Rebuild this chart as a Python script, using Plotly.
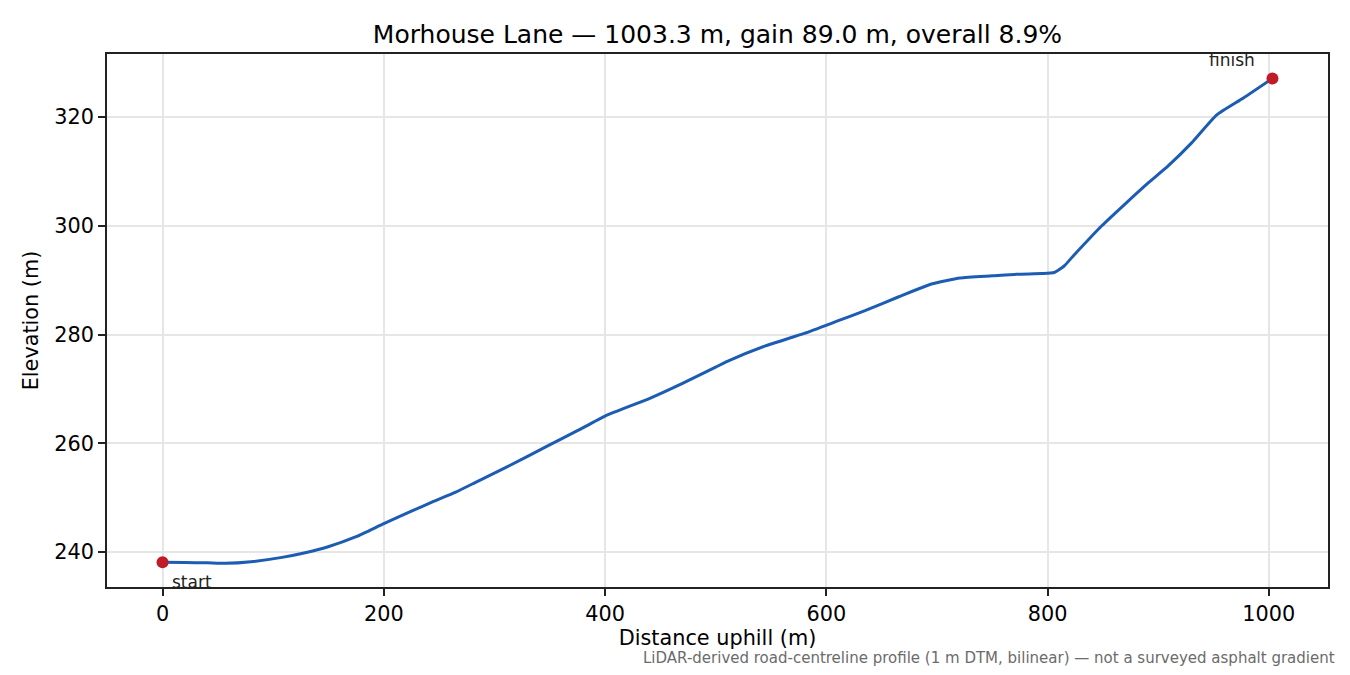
import plotly.graph_objects as go

# profile data (distance uphill in m, elevation in m)
distancia = [0, 20, 40, 57, 80, 108, 130, 149, 175, 200, 225, 244, 265, 283, 310,
             349, 375, 400, 441, 470, 500, 511, 545, 580, 609, 635, 665, 695, 721,
             750, 772, 795, 806, 815, 823, 849, 870, 890, 909, 930, 953, 977, 1003.3]
elevacao = [238.1, 238.05, 238.0, 237.9, 238.2, 239.0, 239.9, 240.9, 242.8, 245.2,
            247.5, 249.2, 251.0, 252.8, 255.5, 259.6, 262.3, 265.0, 268.3, 271.0,
            274.0, 275.1, 277.9, 280.2, 282.4, 284.4, 286.9, 289.3, 290.4, 290.8,
            291.1, 291.2, 291.4, 292.6, 294.4, 300.0, 304.0, 307.7, 311.0, 315.2,
            320.4, 323.5, 327.1]

pontos_x = [distancia[0], distancia[-1]]
pontos_y = [elevacao[0], elevacao[-1]]
rotulos = ["start", "finish"]

x_ticks = [0, 200, 400, 600, 800, 1000]
y_ticks = [240, 260, 280, 300, 320]

titulo = "Morhouse Lane — 1003.3 m, gain 89.0 m, overall 8.9%"
nota = "LiDAR-derived road-centreline profile (1 m DTM, bilinear) — not a surveyed asphalt gradient"

fonte = "DejaVu Sans"

# the page has an 8px body margin, so the figure is a bit smaller than the window
W, H = 1334, 659

fig = go.Figure()
fig.add_trace(go.Scatter(x=distancia, y=elevacao, mode="lines",
                         line=dict(color="#1c5cb2", width=3, shape="spline", smoothing=0.5),
                         showlegend=False))
fig.add_trace(go.Scatter(x=pontos_x, y=pontos_y, mode="markers",
                         marker=dict(color="#c01c28", size=12), showlegend=False))

# start / finish labels
fig.add_annotation(x=pontos_x[0], y=pontos_y[0], text=rotulos[0], showarrow=False,
                   xanchor="left", yanchor="middle", xshift=7, yshift=-20,
                   font=dict(family=fonte, size=17, color="#222222"))
fig.add_annotation(x=pontos_x[1], y=pontos_y[1], text=rotulos[1], showarrow=False,
                   xanchor="right", yanchor="middle", xshift=-15, yshift=18,
                   font=dict(family=fonte, size=17, color="#222222"))

# footnote, kept inside the bottom edge of the figure
fig.add_annotation(xref="paper", yref="paper", x=1.0066, y=-0.134, text=nota,
                   showarrow=False, xanchor="right", yanchor="middle", borderpad=0,
                   font=dict(family=fonte, size=15, color="#6b6b6b"))

eixo = dict(showline=True, linecolor="#222222", linewidth=1.6, mirror=True,
            ticks="outside", ticklen=7, tickwidth=1.6, tickcolor="#222222",
            showgrid=True, gridcolor="#e6e6e6", gridwidth=1.5, zeroline=False,
            tickfont=dict(family=fonte, size=20.8, color="#000000"))

fig.update_layout(
    width=W, height=H,
    paper_bgcolor="white", plot_bgcolor="white",
    margin=dict(l=99, r=14, t=46, b=80),
    title=dict(text=titulo, xref="paper", x=0.5, xanchor="center",
               y=1 - 26 / H, yanchor="middle",
               font=dict(family=fonte, size=25, color="#000000")),
    xaxis=dict(eixo, range=[-50.2, 1053.5], tickvals=x_ticks,
               title=dict(text="Distance uphill (m)", standoff=4,
                          font=dict(family=fonte, size=20.8, color="#000000"))),
    yaxis=dict(eixo, range=[233.55, 331.6], tickvals=y_ticks,
               title=dict(text="Elevation (m)", standoff=10,
                          font=dict(family=fonte, size=20.8, color="#000000"))),
)

fig.write_html("out.html")
